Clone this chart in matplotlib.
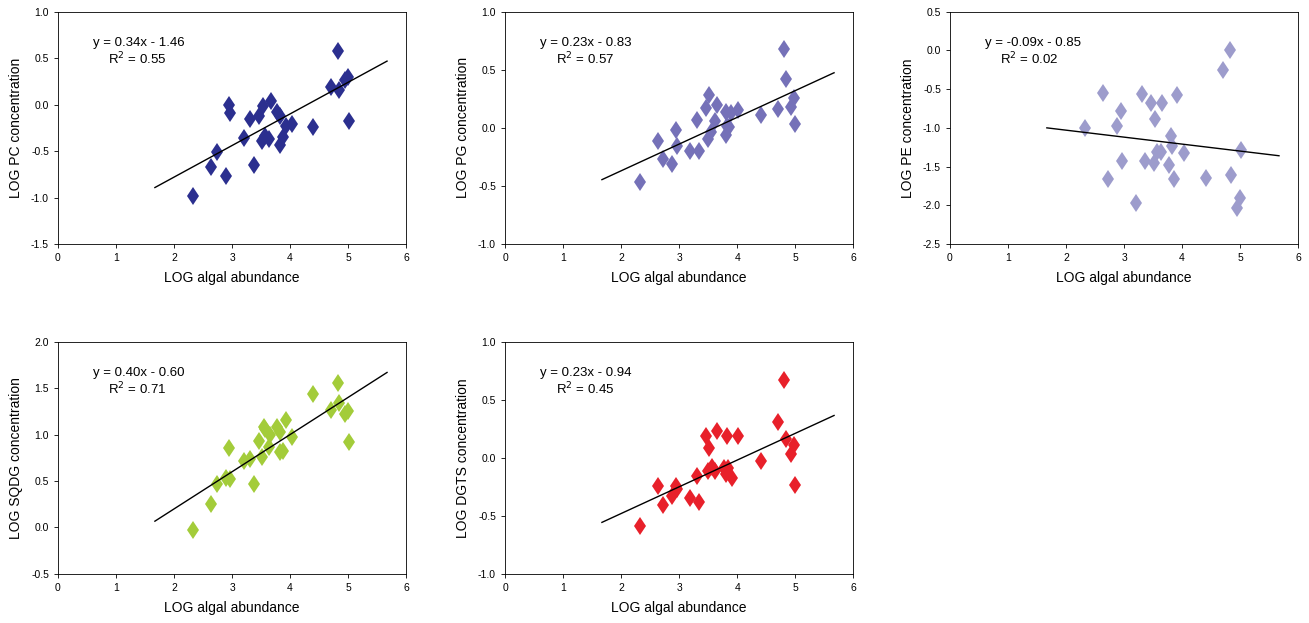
import matplotlib
matplotlib.use("Agg")
import matplotlib.pyplot as plt
import numpy as np

plt.rcParams['font.family'] = ['Liberation Sans', 'DejaVu Sans']

pc_x = [2.33,2.64,2.74,2.89,2.95,2.97,3.20,3.31,3.37,3.47,3.53,3.57,3.51,3.63,3.67,3.77,3.83,3.82,3.87,3.93,4.03,4.40,4.71,4.82,4.85,4.94,4.99,5.01]
pc_y = [-0.98,-0.67,-0.51,-0.77,-0.005,-0.09,-0.36,-0.15,-0.65,-0.12,-0.02,-0.34,-0.39,-0.37,0.04,-0.08,-0.12,-0.43,-0.35,-0.23,-0.21,-0.24,0.19,0.58,0.16,0.27,0.30,-0.18]
pg_x = [2.32,2.63,2.72,2.87,2.95,2.96,3.18,3.31,3.35,3.47,3.52,3.50,3.55,3.65,3.62,3.81,3.83,3.81,3.86,3.90,4.02,4.41,4.71,4.81,4.84,4.93,4.98,5.00]
pg_y = [-0.47,-0.11,-0.27,-0.31,-0.02,-0.16,-0.20,0.07,-0.20,0.17,0.28,-0.10,-0.04,0.20,0.06,0.14,0.02,-0.06,0.01,0.13,0.15,0.11,0.16,0.68,0.42,0.18,0.26,0.03]
pe_x = [2.32,2.63,2.72,2.88,2.95,2.96,3.20,3.31,3.36,3.47,3.53,3.51,3.56,3.63,3.66,3.81,3.83,3.77,3.86,3.92,4.03,4.41,4.71,4.82,4.85,4.94,4.99,5.01]
pe_y = [-1.00,-0.55,-1.66,-0.97,-0.78,-1.43,-1.97,-0.56,-1.43,-0.68,-0.89,-1.46,-1.31,-1.31,-0.68,-1.10,-1.24,-1.48,-1.66,-0.57,-1.32,-1.65,-0.25,0.00,-1.61,-2.04,-1.91,-1.28]
sq_x = [2.33,2.64,2.74,2.90,2.97,2.95,3.20,3.31,3.37,3.47,3.51,3.55,3.57,3.63,3.66,3.77,3.83,3.82,3.87,3.93,4.03,4.40,4.71,4.82,4.85,4.94,4.99,5.01]
sq_y = [-0.03,0.25,0.47,0.53,0.52,0.85,0.71,0.74,0.47,0.93,0.76,1.08,1.06,0.87,0.99,1.08,1.03,0.81,0.82,1.16,0.97,1.44,1.26,1.55,1.34,1.22,1.25,0.92]
dg_x = [2.32,2.63,2.72,2.87,2.95,2.96,3.18,3.31,3.35,3.47,3.52,3.50,3.56,3.65,3.62,3.82,3.78,3.81,3.85,3.92,4.02,4.41,4.71,4.81,4.84,4.93,4.98,5.00]
dg_y = [-0.59,-0.245,-0.41,-0.33,-0.24,-0.27,-0.35,-0.16,-0.38,0.19,0.08,-0.11,-0.08,0.23,-0.11,0.19,-0.09,-0.14,-0.09,-0.17,0.19,-0.03,0.31,0.67,0.16,0.03,0.11,-0.23]

slopes = [0.34, 0.23, -0.09, 0.40, 0.23]
intercepts = [-1.46, -0.83, -0.85, -0.60, -0.94]
eq_texts = ["y = 0.34x - 1.46", "y = 0.23x - 0.83", "y = -0.09x - 0.85", "y = 0.40x - 0.60", "y = 0.23x - 0.94"]
r2_texts = ["R$^2$ = 0.55", "R$^2$ = 0.57", "R$^2$ = 0.02", "R$^2$ = 0.71", "R$^2$ = 0.45"]
ylabels = ["LOG PC concentration", "LOG PG concentration", "LOG PE concentration", "LOG SQDG concentration", "LOG DGTS concentration"]
ylims = [(-1.5, 1.0), (-1.0, 1.0), (-2.5, 0.5), (-0.5, 2.0), (-1.0, 1.0)]
yticks = [np.arange(-1.5, 1.01, 0.5), np.arange(-1.0, 1.01, 0.5), np.arange(-2.5, 0.51, 0.5), np.arange(-0.5, 2.01, 0.5), np.arange(-1.0, 1.01, 0.5)]
colors = ["#2b2f8f", "#7571b8", "#9d9ccc", "#a3cc3a", "#e8202a"]
xs = [pc_x, pg_x, pe_x, sq_x, dg_x]
ys = [pc_y, pg_y, pe_y, sq_y, dg_y]
xtick_vals = [0, 1, 2, 3, 4, 5, 6]
xlabel = "LOG algal abundance"

fig = plt.figure(figsize=(13.09, 6.23), dpi=100)
lefts = [0.0443, 0.3858, 0.7257, 0.0443, 0.3858]
bottoms = [0.6083, 0.6083, 0.6083, 0.0787, 0.0787]
w, h = 0.266, 0.373
for i in range(5):
    ax = fig.add_axes([lefts[i], bottoms[i], w, h])
    ax.plot(xs[i], ys[i], linestyle='none', marker='d', markersize=9.5, color=colors[i], markeredgewidth=0)
    lx = np.array([1.67, 5.67])
    ax.plot(lx, slopes[i]*lx + intercepts[i], color='black', lw=1)
    ax.set_xlim(0, 6)
    ax.set_ylim(*ylims[i])
    ax.set_xticks(xtick_vals)
    ax.set_yticks(yticks[i])
    ax.set_yticklabels([f"{v:.1f}" for v in yticks[i]])
    ax.tick_params(labelsize=7.5, direction='out', length=3, width=0.6)
    for s in ax.spines.values():
        s.set_linewidth(0.6)
    ax.set_xlabel(xlabel, fontsize=10, labelpad=6)
    ax.set_ylabel(ylabels[i], fontsize=10, labelpad=6)
    ax.text(0.10, 0.865, eq_texts[i], transform=ax.transAxes, fontsize=9.5, va='center')
    ax.text(0.145, 0.795, r2_texts[i], transform=ax.transAxes, fontsize=9.5, va='center')

fig.savefig("out.png", dpi=100)
